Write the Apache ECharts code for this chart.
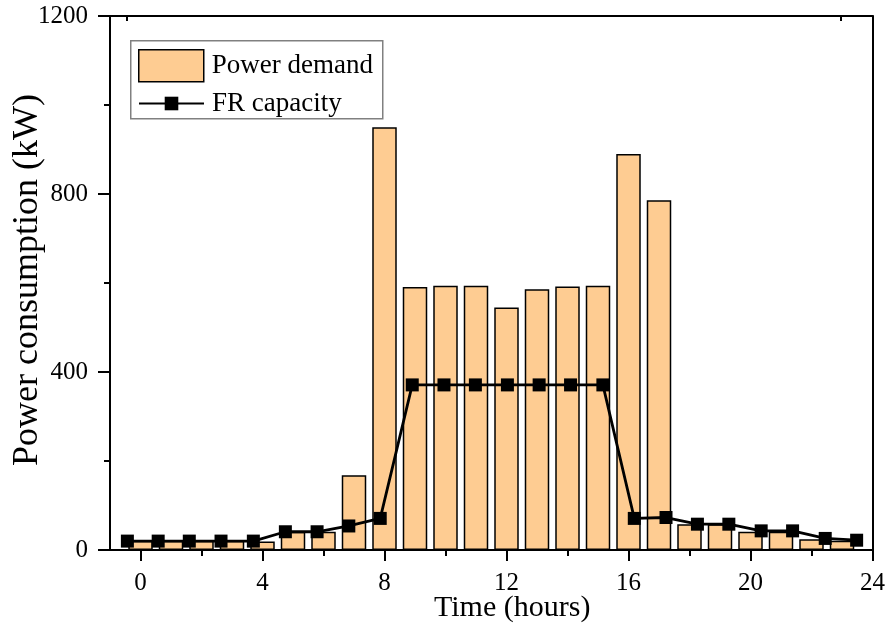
<!DOCTYPE html>
<html>
<head>
<meta charset="utf-8">
<script src="https://cdn.jsdelivr.net/npm/echarts@6/dist/echarts.min.js"></script>
<style>html,body{margin:0;padding:0;background:#fff}#c{width:888px;height:630px}</style>
</head>
<body>
<div id="c"></div>
<script>
var hours = [0,1,2,3,4,5,6,7,8,9,10,11,12,13,14,15,16,17,18,19,20,21,22,23];
var powerDemand = [21,21,21,21,19,41,41,168,950,591,594,594,545,586,592,594,890,786,58,58,41,41,24,21];
var frHours = [-0.43,0.58,1.60,2.64,3.70,4.75,5.79,6.83,7.86,8.91,9.95,10.98,12.03,13.07,14.10,15.16,16.19,17.23,18.26,19.29,20.35,21.38,22.45,23.48];
var frCapacity = [20,20,20,20,20,41,41,54,71,371,371,371,371,371,371,371,71,73,58,58,43,43,26,22];
var xTickLabels = [0,4,8,12,16,20,24];
var xMinorTicks = [2,6,10,14,18,22];
var topTicks = [-0.45,22.95];

var FONT = 'Liberation Serif';
var chart = echarts.init(document.getElementById('c'), null, {renderer:'canvas'});
var axisLine = {show:true, onZero:false, lineStyle:{color:'#000', width:2}};
var option = {
  animation:false,
  grid:{left:110, right:11, top:16, bottom:80},
  graphic:[
    {type:'rect', left:130, top:40, shape:{width:252, height:78}, style:{fill:'#fff', stroke:'#808080', lineWidth:1.5}, z:1},
    {type:'text', left:434, top:593, style:{text:'Time (hours)', font:'30px "Liberation Serif"', fill:'#000'}},
    {type:'text', x:10, y:466, rotation:Math.PI/2, style:{text:'Power consumption (kW)', font:'36px "Liberation Serif"', fill:'#000'}}
  ],
  legend:[
    {left:133, top:44, itemWidth:65, itemHeight:32, icon:'rect', data:['Power demand'], z:5,
     itemStyle:{borderColor:'#000', borderWidth:1.5},
     textStyle:{fontFamily:FONT, fontSize:27, color:'#000', padding:[0,0,0,3]}},
    {left:133, top:85, itemWidth:65, itemHeight:17, data:['FR capacity'], z:5,
     textStyle:{fontFamily:FONT, fontSize:27, color:'#000', padding:[0,0,0,3]}}
  ],
  xAxis:[
    {type:'value', min:-1, max:24, position:'bottom', axisLine:axisLine, splitLine:{show:false},
     axisTick:{show:true, customValues:xTickLabels, length:11, lineStyle:{width:2,color:'#000'}},
     axisLabel:{customValues:xTickLabels, margin:21, fontFamily:FONT, fontSize:25, color:'#000'}},
    {type:'value', min:-1, max:24, position:'bottom', axisLine:{show:false, onZero:false}, splitLine:{show:false},
     axisTick:{show:true, customValues:xMinorTicks, length:6, lineStyle:{width:2,color:'#000'}},
     axisLabel:{show:false}},
    {type:'value', min:-1, max:24, position:'top', axisLine:axisLine, splitLine:{show:false},
     axisTick:{show:true, inside:true, customValues:topTicks, length:5, lineStyle:{width:2,color:'#000'}},
     axisLabel:{show:false}}
  ],
  yAxis:[
    {type:'value', min:0, max:1200, interval:400, position:'left', axisLine:axisLine, splitLine:{show:false},
     axisTick:{show:true, length:12, lineStyle:{width:2,color:'#000'}},
     minorTick:{show:true, splitNumber:2, length:6, lineStyle:{width:2,color:'#000'}},
     axisLabel:{margin:22, fontFamily:FONT, fontSize:25, color:'#000', formatter:function(v){return String(v);}}},
    {type:'value', min:0, max:1200, interval:400, position:'right', axisLine:axisLine, splitLine:{show:false},
     axisTick:{show:false}, axisLabel:{show:false}}
  ],
  series:[
    {name:'Power demand', type:'bar', xAxisIndex:0, yAxisIndex:0, barWidth:24.5,
     data:hours.map(function(h,i){return [h, powerDemand[i]];}),
     itemStyle:{color:'#FECC92', borderColor:'#000', borderWidth:1.5}, z:2},
    {name:'FR capacity', type:'line', xAxisIndex:0, yAxisIndex:0, symbol:'rect', symbolSize:13,
     data:frHours.map(function(h,i){return [h, frCapacity[i]];}),
     itemStyle:{color:'#000'}, lineStyle:{color:'#000', width:2.8}, z:3}
  ]
};
chart.setOption(option);
</script>
</body>
</html>
